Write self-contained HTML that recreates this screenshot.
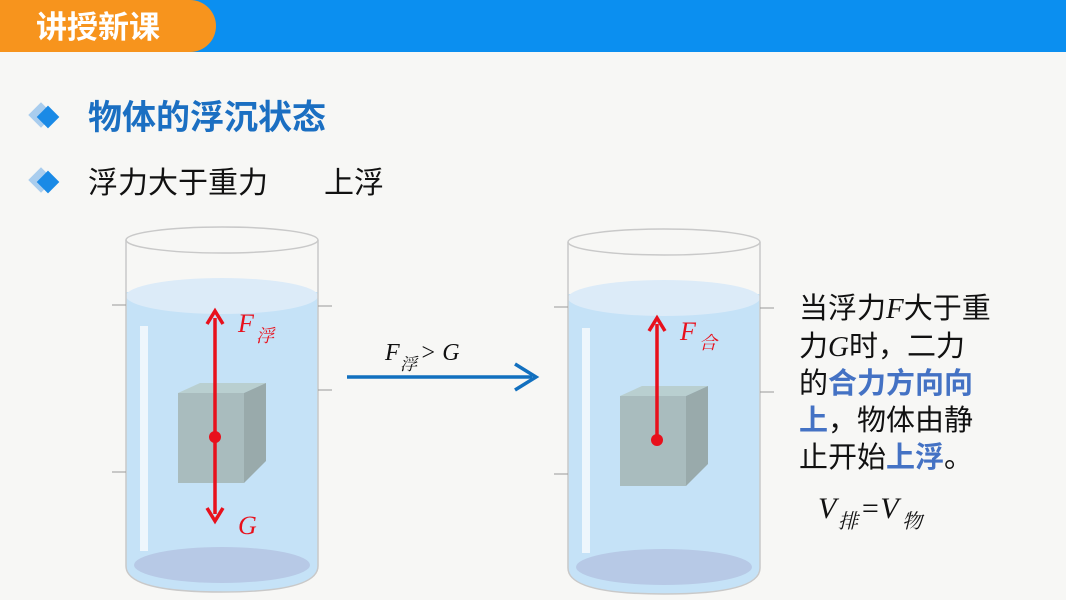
<!DOCTYPE html>
<html><head><meta charset="utf-8"><style>
html,body{margin:0;padding:0;width:1066px;height:600px;overflow:hidden;background:#f7f7f5;}
svg text{font-family:"Liberation Sans","Noto Sans CJK SC",sans-serif;}
.s{font-family:"Liberation Serif","Noto Serif CJK SC",serif;font-style:italic;}
</style></head><body>
<svg width="1066" height="600" viewBox="0 0 1066 600" xmlns="http://www.w3.org/2000/svg">
<defs>
<g id="beaker">
  <path d="M0,66 L0,340 Q0,366 96,366 Q192,366 192,340 L192,66 Z" fill="#c5e2f7"/>
  <ellipse cx="96" cy="70" rx="96" ry="18" fill="#dcebf8"/>
  <ellipse cx="96" cy="339" rx="88" ry="18" fill="#b7c9e6"/>
  <path d="M0,14 L0,340 Q0,366 96,366 Q192,366 192,340 L192,14" fill="none" stroke="#c9c9c9" stroke-width="1.5"/>
  <ellipse cx="96" cy="14" rx="96" ry="13" fill="none" stroke="#c9c9c9" stroke-width="1.5"/>
  <rect x="14" y="100" width="8" height="225" fill="#eef6fc"/>
  <line x1="-14" y1="79" x2="0" y2="79" stroke="#999"/>
  <line x1="-14" y1="246" x2="0" y2="246" stroke="#999"/>
  <line x1="192" y1="80" x2="206" y2="80" stroke="#999"/>
  <line x1="192" y1="164" x2="206" y2="164" stroke="#999"/>
</g>
<g id="cube">
  <polygon points="0,10 22,0 88,0 66,10" fill="#b9cfd0"/>
  <polygon points="66,10 88,0 88,78 66,100" fill="#99aaab"/>
  <rect x="0" y="10" width="66" height="90" fill="#a9bcbe"/>
</g>
<g id="dia">
  <rect x="-9" y="-9" width="18" height="18" transform="translate(-7,-2) rotate(45)" fill="#a9cdee"/>
  <rect x="-8" y="-8" width="16" height="16" transform="rotate(45)" fill="#1a8ae6"/>
</g>
</defs>
<rect x="0" y="0" width="1066" height="52" fill="#0b8ff0"/>
<path d="M0,0 H190 A26,26 0 0 1 190,52 H0 Z" fill="#f7941d"/>
<text x="36" y="38" font-size="31" font-weight="bold" fill="#fff">讲授新课</text>
<use href="#dia" transform="translate(48,117)"/>
<use href="#dia" transform="translate(48,182)"/>
<text x="88" y="129" font-size="34" font-weight="bold" fill="#1b6fc2">物体的浮沉状态</text>
<text x="88" y="193" font-size="30" fill="#111">浮力大于重力</text>
<text x="324" y="193" font-size="30" fill="#111">上浮</text>

<use href="#beaker" transform="translate(126,226)"/>
<use href="#cube" transform="translate(178,383)"/>
<line x1="215" y1="318" x2="215" y2="514" stroke="#e8101c" stroke-width="3.5"/>
<polyline points="207,324 215,311 223,324" fill="none" stroke="#e8101c" stroke-width="3.5"/>
<polyline points="207,508 215,521 223,508" fill="none" stroke="#e8101c" stroke-width="3.5"/>
<circle cx="215" cy="437" r="6" fill="#e8101c"/>
<text x="238" y="332" class="s" font-size="26" fill="#e8101c">F</text>
<text x="256" y="342" class="s" font-size="18" fill="#e8101c">浮</text>
<text x="238" y="534" class="s" font-size="26" fill="#e8101c">G</text>

<line x1="347" y1="377" x2="532" y2="377" stroke="#1270bf" stroke-width="3.5"/>
<polyline points="515,364 536,377 515,390" fill="none" stroke="#1270bf" stroke-width="3.5"/>
<text x="385" y="360" class="s" font-size="24" fill="#111">F</text>
<text x="400" y="370" class="s" font-size="17" fill="#111">浮</text>
<text x="420" y="360" class="s" font-size="24" fill="#111">&gt; G</text>

<use href="#beaker" transform="translate(568,228)"/>
<use href="#cube" transform="translate(620,386)"/>
<line x1="657" y1="324" x2="657" y2="440" stroke="#e8101c" stroke-width="3.5"/>
<polyline points="649,331 657,318 665,331" fill="none" stroke="#e8101c" stroke-width="3.5"/>
<circle cx="657" cy="440" r="6" fill="#e8101c"/>
<text x="680" y="340" class="s" font-size="26" fill="#e8101c">F</text>
<text x="699" y="349" class="s" font-size="18" fill="#e8101c">合</text>

<g font-size="29" fill="#111">
<text x="799" y="318">当浮力<tspan class="s" font-family="Liberation Serif">F</tspan>大于重</text>
<text x="799" y="356">力<tspan class="s" font-family="Liberation Serif">G</tspan>时，二力</text>
<text x="799" y="393">的<tspan fill="#4472c4" font-weight="bold">合力方向向</tspan></text>
<text x="799" y="430"><tspan fill="#4472c4" font-weight="bold">上</tspan>，物体由静</text>
<text x="799" y="467">止开始<tspan fill="#4472c4" font-weight="bold">上浮</tspan>。</text>
</g>
<text x="818" y="518" class="s" font-size="30" fill="#111">V</text>
<text x="838" y="528" class="s" font-size="20" fill="#111">排</text>
<text x="860" y="518" class="s" font-size="30" fill="#111">=V</text>
<text x="902" y="528" class="s" font-size="20" fill="#111">物</text>
</svg>
</body></html>
